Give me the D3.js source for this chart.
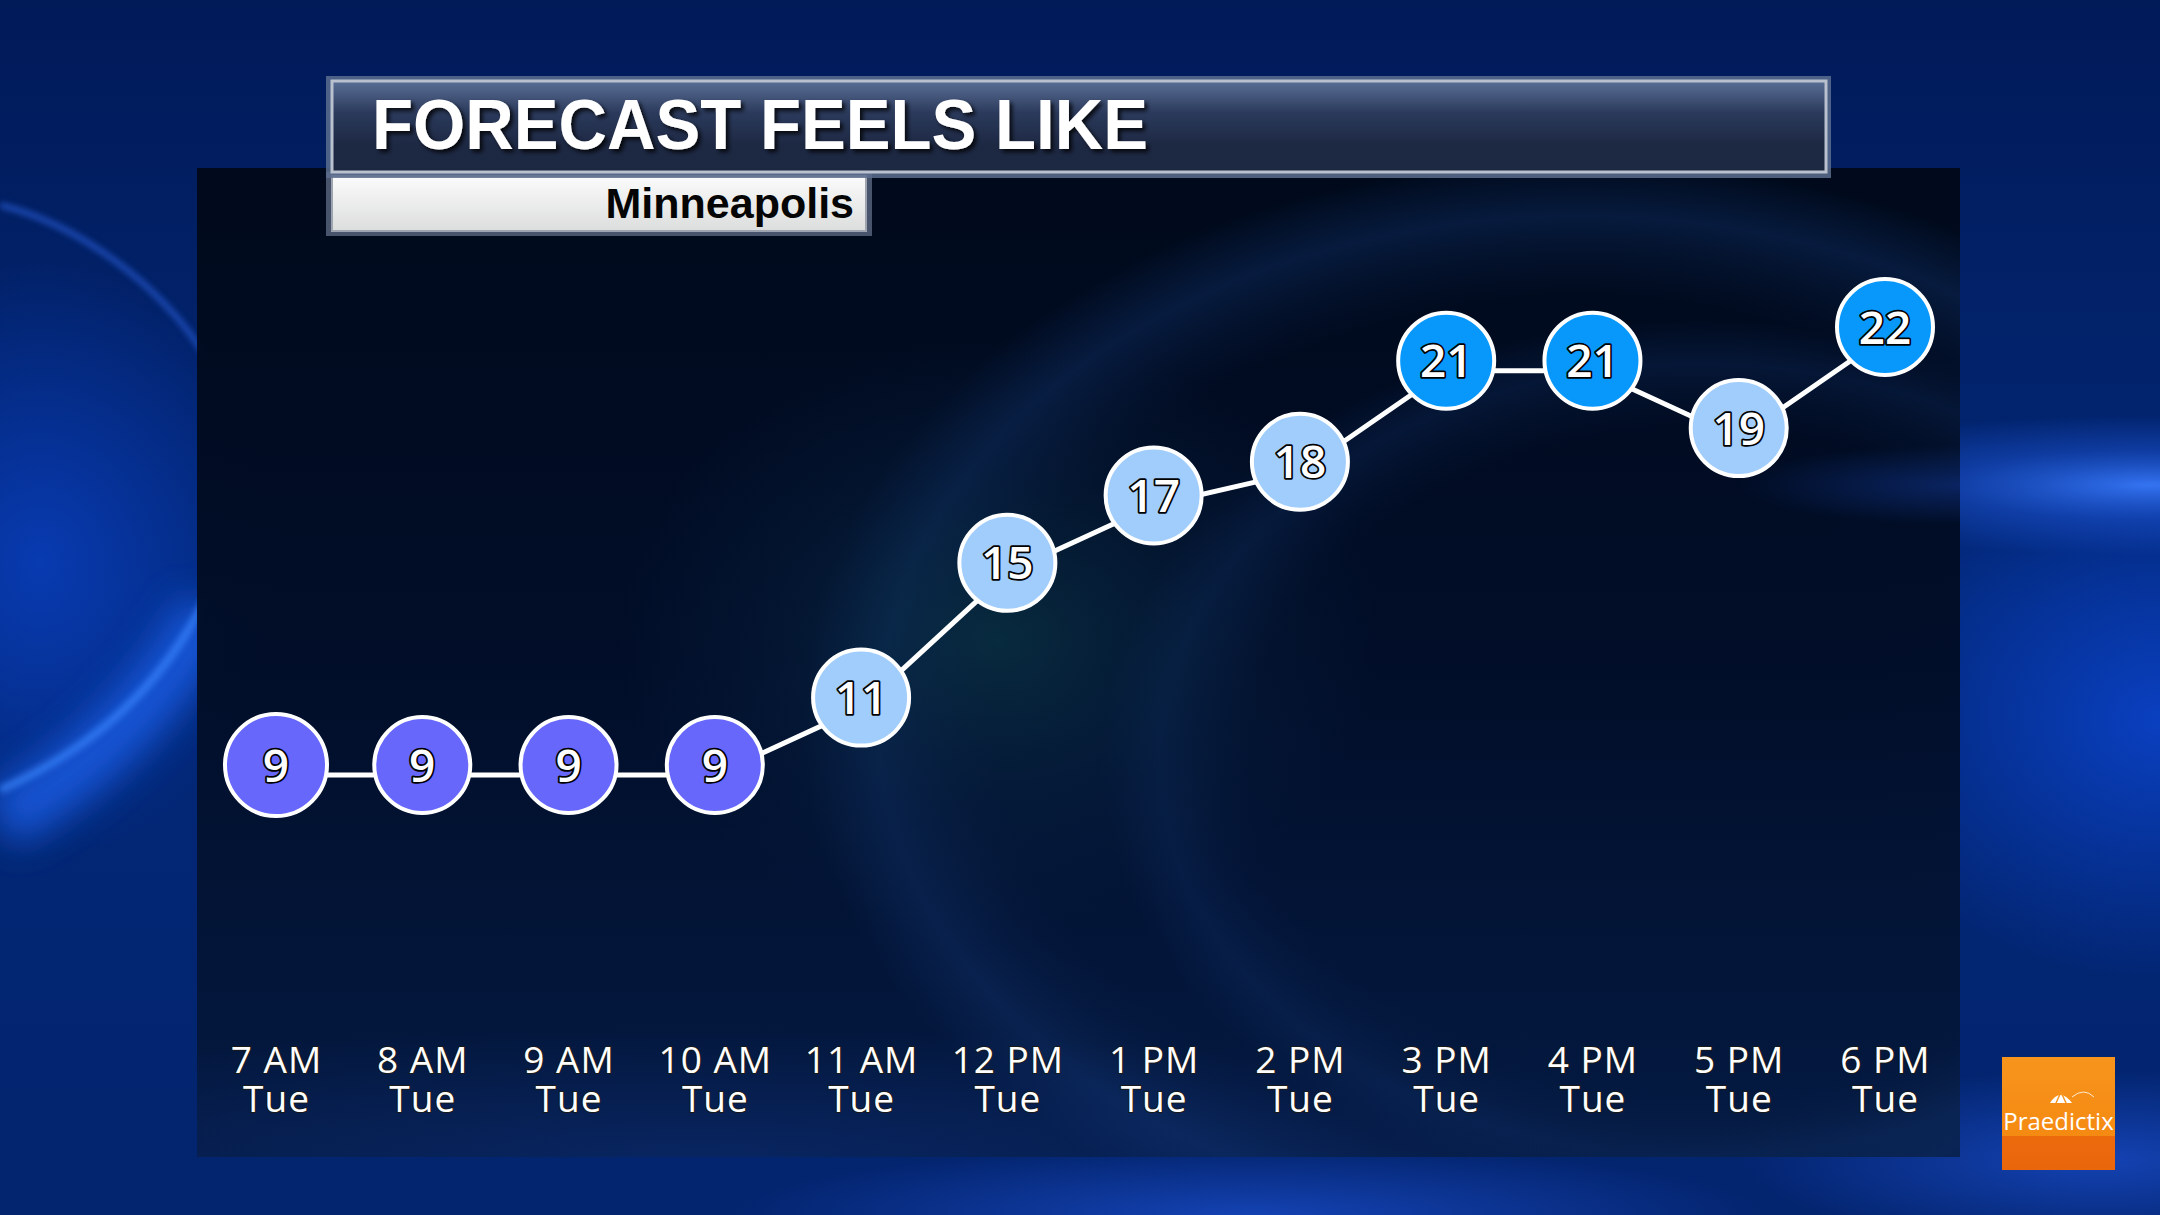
<!DOCTYPE html>
<html>
<head>
<meta charset="utf-8">
<script src="https://cdn.jsdelivr.net/npm/d3@7"></script>
<style>
  html, body { margin: 0; padding: 0; background: #001a5a; overflow: hidden; }
  svg { display: block; }
</style>
</head>
<body>
<svg id="chart" width="2160" height="1215"></svg>
<script>
// ---------- data ----------
const chartTitle = "FORECAST FEELS LIKE";
const cityName = "Minneapolis";
const hours = ["7 AM", "8 AM", "9 AM", "10 AM", "11 AM", "12 PM", "1 PM", "2 PM", "3 PM", "4 PM", "5 PM", "6 PM"];
const days = ["Tue", "Tue", "Tue", "Tue", "Tue", "Tue", "Tue", "Tue", "Tue", "Tue", "Tue", "Tue"];
const feelsLike = [9, 9, 9, 9, 11, 15, 17, 18, 21, 21, 19, 22];
const colorBreaks = [10, 20];
const colorRange = ["#6767fb", "#a0cdfc", "#0898fb"];
const brand = "Praedictix";

const data = hours.map((h, i) => ({ hour: h, day: days[i], value: feelsLike[i] }));

const W = 2160, H = 1215;
const svg = d3.select("#chart");
const defs = svg.append("defs");

// ---------- gradients ----------
function linGrad(id, stops, x1 = 0, y1 = 0, x2 = 0, y2 = 1) {
  const g = defs.append("linearGradient").attr("id", id)
    .attr("x1", x1).attr("y1", y1).attr("x2", x2).attr("y2", y2);
  stops.forEach(s => g.append("stop").attr("offset", s[0]).attr("stop-color", s[1]).attr("stop-opacity", s[2] == null ? 1 : s[2]));
}
function radGrad(id, stops) {
  const g = defs.append("radialGradient").attr("id", id);
  stops.forEach(s => g.append("stop").attr("offset", s[0]).attr("stop-color", s[1]).attr("stop-opacity", s[2] == null ? 1 : s[2]));
}
linGrad("bgGrad", [[0, "#011a58"], [0.5, "#022878"], [1, "#03246e"]]);
radGrad("glowBlue", [[0, "#3a7cff", 0.9], [0.5, "#1f58dc", 0.45], [1, "#1f58dc", 0]]);
radGrad("glowSoft", [[0, "#1b4fd0", 0.7], [1, "#1b4fd0", 0]]);
radGrad("glowDeep", [[0, "#0c47d8", 0.75], [1, "#0c47d8", 0]]);
linGrad("panelGrad", [[0, "#000919"], [0.5, "#010d26"], [1, "#041a42"]]);
radGrad("panelGlow", [[0, "#0d4250", 0.55], [0.6, "#0a2a4c", 0.25], [1, "#0a2a4c", 0]]);
radGrad("panelArc", [[0, "#0a2048", 0], [0.75, "#0a2048", 0.0], [0.9, "#0f2f66", 0.45], [1, "#0f2f66", 0]]);
linGrad("titleGrad", [[0, "#5a6f96"], [0.35, "#2b3a5c"], [0.7, "#1d2843"], [1, "#1c2740"]]);
linGrad("subGrad", [[0, "#fbfbfb"], [1, "#dcdddd"]]);
linGrad("logoGrad", [[0, "#f7941c"], [0.7, "#f58a12"], [0.7, "#ec6a0c"], [1, "#ea660b"]]);

function blurFilter(id, sd) {
  const f = defs.append("filter").attr("id", id).attr("x", "-50%").attr("y", "-50%").attr("width", "200%").attr("height", "200%");
  f.append("feGaussianBlur").attr("stdDeviation", sd);
}
blurFilter("blur", 18);
blurFilter("blurS", 3);
blurFilter("blurL", 30);
const shadow = defs.append("filter").attr("id", "shadow").attr("x", "-10%").attr("y", "-30%").attr("width", "120%").attr("height", "160%");
shadow.append("feDropShadow").attr("dx", 3).attr("dy", 3).attr("stdDeviation", 2).attr("flood-color", "#000").attr("flood-opacity", 0.8);

// ---------- background ----------
svg.append("rect").attr("width", W).attr("height", H).attr("fill", "url(#bgGrad)");
// right side glows
svg.append("ellipse").attr("cx", 2160).attr("cy", 720).attr("rx", 320).attr("ry", 260).attr("fill", "url(#glowDeep)");
svg.append("ellipse").attr("cx", 2150).attr("cy", 485).attr("rx", 420).attr("ry", 70).attr("fill", "url(#glowBlue)");
svg.append("ellipse").attr("cx", 2100).attr("cy", 1160).attr("rx", 360).attr("ry", 90).attr("fill", "url(#glowSoft)");
// left side glows and arcs
svg.append("ellipse").attr("cx", 40).attr("cy", 560).attr("rx", 240).attr("ry", 300).attr("fill", "url(#glowDeep)").attr("opacity", 0.8);
svg.append("path")
  .attr("d", "M0,820 C90,770 160,700 210,610")
  .attr("fill", "none").attr("stroke", "#1e62ee").attr("stroke-width", 60).attr("opacity", 0.75)
  .attr("filter", "url(#blur)");
svg.append("path")
  .attr("d", "M0,790 C90,750 160,690 205,600")
  .attr("fill", "none").attr("stroke", "#3a86ff").attr("stroke-width", 8).attr("opacity", 0.7)
  .attr("filter", "url(#blurS)");
svg.append("path")
  .attr("d", "M0,205 C80,225 160,285 205,355")
  .attr("fill", "none").attr("stroke", "#2d66e8").attr("stroke-width", 5).attr("opacity", 0.7)
  .attr("filter", "url(#blurS)");
svg.append("ellipse").attr("cx", 1250).attr("cy", 1215).attr("rx", 520).attr("ry", 70).attr("fill", "url(#glowSoft)");

// ---------- dark panel ----------
const panel = { x: 197, y: 168, w: 1763, h: 989 };
defs.append("clipPath").attr("id", "panelClip")
  .append("rect").attr("x", panel.x).attr("y", panel.y).attr("width", panel.w).attr("height", panel.h);
svg.append("rect").attr("x", panel.x).attr("y", panel.y).attr("width", panel.w).attr("height", panel.h)
  .attr("fill", "url(#panelGrad)").attr("opacity", 0.97);
const pg = svg.append("g").attr("clip-path", "url(#panelClip)");
pg.append("ellipse").attr("cx", 1580).attr("cy", 720).attr("rx", 780).attr("ry", 560).attr("fill", "url(#panelArc)");
pg.append("ellipse").attr("cx", 1700).attr("cy", 760).attr("rx", 600).attr("ry", 440).attr("fill", "url(#panelArc)").attr("opacity", 0.7);
pg.append("ellipse").attr("cx", 1000).attr("cy", 640).attr("rx", 380).attr("ry", 300).attr("fill", "url(#panelGlow)");
pg.append("ellipse").attr("cx", 1960).attr("cy", 485).attr("rx", 220).attr("ry", 40).attr("fill", "url(#glowSoft)").attr("opacity", 0.5);
pg.append("ellipse").attr("cx", 700).attr("cy", 1157).attr("rx", 900).attr("ry", 130).attr("fill", "url(#glowSoft)").attr("opacity", 0.3);

// ---------- title boxes ----------
svg.append("rect").attr("x", 326).attr("y", 172).attr("width", 546).attr("height", 64).attr("fill", "#5a6781").attr("opacity", 0.8);
svg.append("rect").attr("x", 332).attr("y", 176).attr("width", 534).attr("height", 55)
  .attr("fill", "url(#subGrad)").attr("stroke", "#9ea5b0").attr("stroke-width", 2);
svg.append("rect").attr("x", 326).attr("y", 76).attr("width", 1505).attr("height", 102).attr("fill", "#5c6d8e").attr("opacity", 0.85);
svg.append("rect").attr("x", 332).attr("y", 81).attr("width", 1494).attr("height", 91)
  .attr("fill", "url(#titleGrad)").attr("stroke", "#b9c1cf").attr("stroke-width", 3);

svg.append("text").attr("x", 372).attr("y", 149)
  .attr("font-family", "Liberation Sans, Arial, sans-serif").attr("font-weight", "bold")
  .attr("font-size", 71).attr("fill", "#ffffff").attr("filter", "url(#shadow)")
  .attr("textLength", 776).attr("lengthAdjust", "spacingAndGlyphs")
  .text(chartTitle);
svg.append("text").attr("x", 854).attr("y", 218).attr("text-anchor", "end")
  .attr("font-family", "Liberation Sans, Arial, sans-serif").attr("font-weight", "bold")
  .attr("font-size", 43).attr("fill", "#050505")
  .text(cityName);

// ---------- scales ----------
const x = d3.scalePoint().domain(hours).range([276, 1885]);
const y = d3.scaleLinear().domain([9, 22]).range([765, 327]);
const color = d3.scaleThreshold().domain(colorBreaks).range(colorRange);
const r = 48;

// ---------- connecting line ----------
const line = d3.line().x(d => x(d.hour)).y(d => y(d.value));
svg.append("path").datum(data)
  .attr("transform", "translate(0,10)")
  .attr("d", line)
  .attr("fill", "none").attr("stroke", "#ffffff").attr("stroke-width", 5)
  .attr("stroke-linejoin", "round");

// ---------- circles ----------
const nodes = svg.append("g").selectAll("g").data(data).join("g")
  .attr("transform", d => `translate(${x(d.hour)},${y(d.value)})`);
nodes.append("circle").attr("r", (d, i) => i === 0 ? r + 3 : r)
  .attr("fill", d => color(d.value)).attr("stroke", "#ffffff").attr("stroke-width", 4);
nodes.append("text")
  .attr("text-anchor", "middle").attr("dy", "0.36em")
  .attr("font-family", "Open Sans, Noto Sans, sans-serif").attr("font-weight", 600)
  .attr("font-size", 46).attr("fill", "#ffffff")
  .attr("stroke", "#000000").attr("stroke-width", 3.5).attr("paint-order", "stroke")
  .attr("stroke-linejoin", "round")
  .text(d => d.value);

// ---------- x axis labels ----------
const xAxis = d3.axisBottom(x).tickSize(0).tickPadding(0);
const axisG = svg.append("g").attr("transform", "translate(0,1040)").call(xAxis);
axisG.select(".domain").remove();
axisG.selectAll(".tick text").remove();
axisG.selectAll(".tick").each(function (h, i) {
  const t = d3.select(this).append("text")
    .attr("text-anchor", "middle")
    .attr("font-family", "Open Sans, Noto Sans, sans-serif").attr("font-weight", 500)
    .attr("font-size", 37).attr("fill", "#ffffff")
    .attr("stroke", "#1a1a1a").attr("stroke-width", 2).attr("paint-order", "stroke")
    .attr("letter-spacing", 1);
  t.append("tspan").attr("x", 0).attr("y", 33).text(h);
  t.append("tspan").attr("x", 0).attr("y", 72).text(days[i]);
});

// ---------- logo ----------
const logo = svg.append("g").attr("transform", "translate(2002,1057)");
logo.append("rect").attr("width", 113).attr("height", 113).attr("fill", "url(#logoGrad)");
logo.append("path").attr("d", "M48,46 Q58,30 70,46 Z").attr("fill", "#ffffff");
logo.append("path").attr("d", "M54,46 L59,35 L64,46").attr("fill", "none").attr("stroke", "#f7941c").attr("stroke-width", 1.5);
logo.append("path").attr("d", "M70,40 Q82,30 92,40").attr("fill", "none").attr("stroke", "#ffffff").attr("stroke-width", 1).attr("opacity", 0.8);
logo.append("text").attr("x", 56.5).attr("y", 73).attr("text-anchor", "middle")
  .attr("font-family", "Open Sans, Noto Sans, sans-serif").attr("font-size", 24).attr("fill", "#ffffff")
  .text(brand);
</script>
</body>
</html>
